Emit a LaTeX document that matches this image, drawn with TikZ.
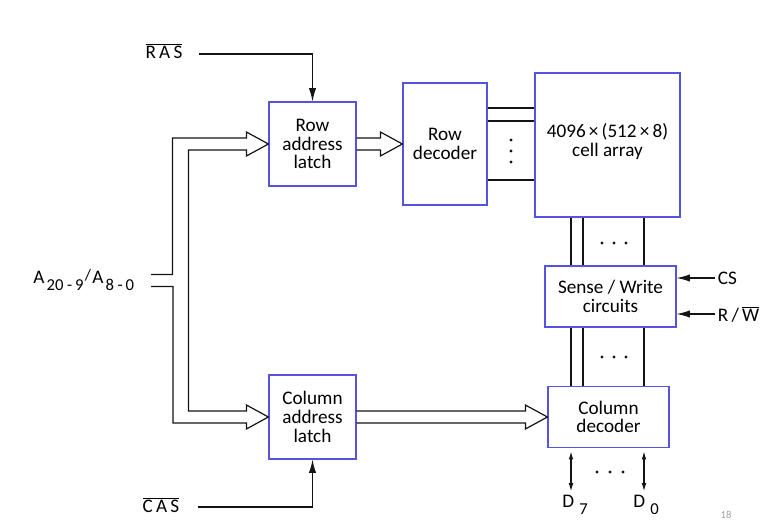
\documentclass[tikz,border=0pt]{standalone}
\usepackage{fontspec}
\setmainfont{Carlito}
\usepackage{tikz}
\usetikzlibrary{arrows.meta, calc}
\definecolor{myblue}{RGB}{84,84,222}
\definecolor{mydark}{RGB}{20,20,20}
\definecolor{mygray}{RGB}{160,160,160}
\newcommand{\blockfont}{\fontsize{14.4}{14}\selectfont}
\newcommand{\lowtext}[1]{\hspace{1.5pt}\raisebox{-5pt}{\fontsize{12.5}{12.5}\selectfont #1}}
\tikzset{
  block/.style={rectangle, draw=myblue, fill=white, align=center,
    font=\blockfont, inner sep=1pt, line width=0.9pt},
  latch/.style={block, minimum width=65.25pt, minimum height=63pt},
  sig/.style={font=\blockfont, inner sep=2pt},
  arrow/.style={-{Latex[length=10pt, width=5.5pt]}, line width=0.8pt, color=mydark},
  dualarrow/.style={{Latex[length=6pt, width=3.5pt]}-{Latex[length=6pt, width=3.5pt]},
    line width=0.8pt, color=mydark},
  bus/.style={line width=0.9pt, color=mydark, line join=miter},
  line/.style={line width=1.1pt, color=mydark}
}

\begin{document}
\begin{tikzpicture}[x=0.75pt, y=-0.75pt]
  \useasboundingbox (0,0) rectangle (770,531);
  % blocks
  \node[latch] (rowlatch) at (312.5,144) {Row\\address\\latch};
  \node[latch] (collatch) at (312.5,417) {Column\\address\\latch};
  \node[block, minimum width=63pt, minimum height=91.5pt] (rowdec) at (445,144) {Row\\decoder};
  \node[block, minimum width=108.75pt, minimum height=108pt] (cell) at (607.5,145)
       {4096\,×\,(512\,×\,8)\\cell array\\[-6pt]};
  \node[block, minimum width=98.25pt, minimum height=45.75pt] (sense) at (610.5,296.5)
       {Sense / Write\\circuits};
  \node[block, minimum width=90.75pt, minimum height=45.75pt] (coldec) at (608.5,417)
       {Column\\decoder};
  % signal labels
  \node[sig] (ras) at (164,51) {$\overline{\mbox{R\,A\,S}}$};
  \node[sig] (cas) at (161,505) {$\overline{\mbox{C\,A\,S}}$};
  \node[sig, anchor=east] (addr) at (137,280)
       {A\lowtext{20 -\,9}\hspace{1pt}\raisebox{2pt}{\fontsize{12}{12}\selectfont/}\hspace{1pt}A\lowtext{8 -\,0}};
  \coordinate (ain) at (151,280.5);
  \node[sig, anchor=west] (cs) at (715,278) {CS};
  \node[sig, anchor=west] (rw) at (715,314) {R\,/\,$\overline{\mbox{W}}$};
  \node[sig] (d7) at (575,505) {D\,\lowtext{7}};
  \node[sig] (d0) at (646,505) {D\,\lowtext{0}};
  \node[font=\fontsize{8}{8}\selectfont, text=mygray] (pgno) at (726,515) {18};
  % strobes
  \draw[arrow] ($(ras.east)+(14,3)$) -| (rowlatch.north);
  \draw[arrow] ($(cas.east)+(16,2)$) -| (collatch.south);
  \draw[arrow] (cs.west) -- (sense.east |- cs.west);
  \draw[arrow] (rw.west) -- (sense.east |- rw.west);
  % address bus into both latches
  \draw[bus] ($(ain)+(0,-6)$) -| ($(rowlatch.west)+(-96,-6)$) -- ++(74,0) -- ++(0,-6)
       -- (rowlatch.west) -- ++(-22,12) -- ++(0,-6)
       -| ($(collatch.west)+(-80,-6)$) -- ++(58,0) -- ++(0,-6)
       -- (collatch.west) -- ++(-22,12) -- ++(0,-6)
       -| ($(ain)+(22,6)$) -- ($(ain)+(0,6)$);
  % latch to decoder buses
  \draw[bus] ($(rowlatch.east)+(0,-6)$) -- ($(rowdec.west)+(-22,-6)$) -- ++(0,-6)
       -- (rowdec.west) -- ++(-22,12) -- ++(0,-6) -- ($(rowlatch.east)+(0,6)$);
  \draw[bus] ($(collatch.east)+(0,-6)$) -- ($(coldec.west)+(-22,-6)$) -- ++(0,-6)
       -- (coldec.west) -- ++(-22,12) -- ++(0,-6) -- ($(collatch.east)+(0,6)$);
  % word lines
  \foreach \y in {108,121,180}
    \draw[line] (rowdec.east |- 0,\y) -- (cell.west |- 0,\y);
  \foreach \y in {140,151,162}
    \fill[mydark] (511,\y) circle (1.2pt);
  % bit lines
  \foreach \x in {571,583,644} {
    \draw[line] (\x,0 |- cell.south) -- (\x,0 |- sense.north);
    \draw[line] (\x,0 |- sense.south) -- (\x,0 |- coldec.north);
  }
  \foreach \x in {602,614,626} {
    \fill[mydark] (\x,243) circle (1.2pt);
    \fill[mydark] (\x,357) circle (1.2pt);
  }
  % data lines
  \draw[dualarrow, shorten <=2.5pt, shorten >=1pt] (571,0 |- coldec.south) -- (571,0 |- d7.north);
  \draw[dualarrow, shorten <=2.5pt, shorten >=1pt] (644,0 |- coldec.south) -- (644,0 |- d0.north);
  \foreach \x in {597,610,623}
    \fill[mydark] (\x,472) circle (1.2pt);
\end{tikzpicture}
\end{document}
